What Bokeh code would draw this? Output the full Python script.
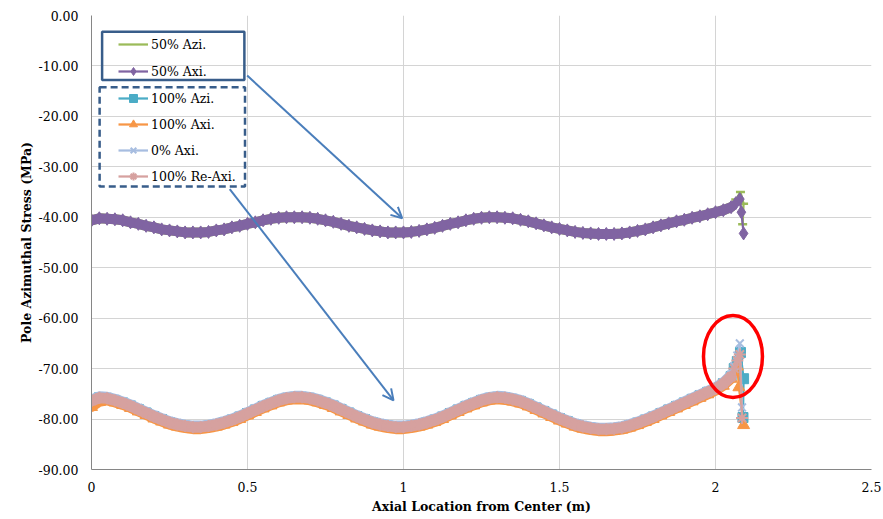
from bokeh.plotting import figure
from bokeh.models import (Range1d, FixedTicker, NumeralTickFormatter, Legend, LegendItem,
                          BoxAnnotation, Arrow, OpenHead)
from bokeh.embed import file_html
from bokeh.resources import INLINE

FONT = "DejaVu Serif"

# ---------------- data ----------------
x_body = [0.000, 0.025, 0.050, 0.075, 0.100, 0.125, 0.150, 0.175, 0.200, 0.225,
          0.250, 0.275, 0.300, 0.325, 0.350, 0.375, 0.400, 0.425, 0.450, 0.475,
          0.500, 0.525, 0.550, 0.575, 0.600, 0.625, 0.650, 0.675, 0.700, 0.725,
          0.750, 0.775, 0.800, 0.825, 0.850, 0.875, 0.900, 0.925, 0.950, 0.975,
          1.000, 1.025, 1.050, 1.075, 1.100, 1.125, 1.150, 1.175, 1.200, 1.225,
          1.250, 1.275, 1.300, 1.325, 1.350, 1.375, 1.400, 1.425, 1.450, 1.475,
          1.500, 1.525, 1.550, 1.575, 1.600, 1.625, 1.650, 1.675, 1.700, 1.725,
          1.750, 1.775, 1.800, 1.825, 1.850, 1.875, 1.900, 1.925, 1.950, 1.975,
          2.000, 2.025, 2.050]

upper_body = [-40.6, -40.2, -40.3, -40.4, -40.6, -41.0, -41.3, -41.7, -42.0, -42.4,
              -42.6, -42.8, -43.0, -43.0, -43.0, -42.9, -42.6, -42.4, -42.0, -41.7,
              -41.3, -41.0, -40.6, -40.3, -40.1, -40.0, -40.0, -40.0, -40.1, -40.3,
              -40.6, -40.9, -41.3, -41.7, -42.0, -42.3, -42.6, -42.8, -43.0, -43.0,
              -43.0, -42.9, -42.7, -42.4, -42.1, -41.7, -41.3, -41.0, -40.6, -40.3,
              -40.1, -40.0, -40.0, -40.1, -40.2, -40.5, -40.8, -41.2, -41.6, -42.0,
              -42.3, -42.6, -42.9, -43.1, -43.2, -43.3, -43.3, -43.3, -43.2, -43.0,
              -42.7, -42.4, -42.0, -41.6, -41.2, -40.8, -40.5, -40.1, -39.8, -39.4,
              -39.0, -38.6, -38.0]

lower_body = [-76.4, -75.8, -75.9, -76.3, -76.8, -77.4, -78.1, -78.8, -79.5, -80.1,
              -80.7, -81.1, -81.4, -81.6, -81.6, -81.4, -81.1, -80.7, -80.2, -79.6,
              -78.9, -78.2, -77.5, -76.9, -76.3, -75.9, -75.7, -75.7, -75.9, -76.3,
              -76.8, -77.4, -78.1, -78.8, -79.5, -80.1, -80.7, -81.1, -81.4, -81.6,
              -81.6, -81.4, -81.1, -80.7, -80.2, -79.6, -78.9, -78.2, -77.5, -76.9,
              -76.3, -75.9, -75.7, -75.8, -76.1, -76.5, -77.1, -77.8, -78.5, -79.2,
              -79.9, -80.5, -81.1, -81.5, -81.8, -82.0, -82.0, -81.9, -81.7, -81.3,
              -80.8, -80.2, -79.6, -78.9, -78.2, -77.5, -76.8, -76.1, -75.4, -74.7,
              -74.0, -73.0, -71.6]

axi100_body = [-77.6, -76.6, -76.3, -76.7, -77.2, -77.8, -78.5, -79.2, -79.9, -80.5,
               -81.1, -81.5, -81.8, -82.0, -82.0, -81.8, -81.5, -81.1, -80.6, -80.0,
               -79.3, -78.6, -77.9, -77.3, -76.7, -76.3, -76.1, -76.1, -76.3, -76.7,
               -77.2, -77.8, -78.5, -79.2, -79.9, -80.5, -81.1, -81.5, -81.8, -82.0,
               -82.0, -81.8, -81.5, -81.1, -80.6, -80.0, -79.3, -78.6, -77.9, -77.3,
               -76.7, -76.3, -76.1, -76.2, -76.5, -76.9, -77.5, -78.2, -78.9, -79.6,
               -80.3, -80.9, -81.5, -81.9, -82.2, -82.4, -82.4, -82.3, -82.1, -81.7,
               -81.2, -80.6, -80.0, -79.3, -78.6, -77.9, -77.2, -76.5, -75.8, -75.1,
               -74.4, -73.4, -72.0]

axi0_body = [-76.1, -75.5, -75.6, -76.0, -76.5, -77.1, -77.8, -78.5, -79.2, -79.8,
             -80.4, -80.8, -81.1, -81.3, -81.3, -81.1, -80.8, -80.4, -79.9, -79.3,
             -78.6, -77.9, -77.2, -76.6, -76.0, -75.6, -75.4, -75.4, -75.6, -76.0,
             -76.5, -77.1, -77.8, -78.5, -79.2, -79.8, -80.4, -80.8, -81.1, -81.3,
             -81.3, -81.1, -80.8, -80.4, -79.9, -79.3, -78.6, -77.9, -77.2, -76.6,
             -76.0, -75.6, -75.4, -75.5, -75.8, -76.2, -76.8, -77.5, -78.2, -78.9,
             -79.6, -80.2, -80.8, -81.2, -81.5, -81.7, -81.7, -81.6, -81.4, -81.0,
             -80.5, -79.9, -79.3, -78.6, -77.9, -77.2, -76.5, -75.8, -75.1, -74.4,
             -73.7, -72.7, -71.2]

# end-of-pole points
azi50_end_x = [2.065, 2.080, 2.090, 2.087]
azi50_end = [-36.5, -35.0, -37.3, -41.4]
axi50_end_x = [2.065, 2.078, 2.083, 2.090]
axi50_end = [-37.2, -36.4, -39.0, -43.2]
azi100_end_x = [2.060, 2.070, 2.080, 2.090, 2.088]
azi100_end = [-70.0, -68.6, -66.8, -72.0, -79.7]
axi100_end_x = [2.060, 2.070, 2.075, 2.090]
axi100_end = [-70.8, -69.6, -73.7, -81.2]
axi0_end_x = [2.060, 2.070, 2.078, 2.085]
axi0_end = [-69.5, -67.4, -65.0, -77.7]
reaxi100_end_x = [2.060, 2.070, 2.078, 2.085]
reaxi100_end = [-70.0, -68.4, -67.2, -79.8]

x_ticks = [0, 0.5, 1, 1.5, 2, 2.5]
y_ticks = [-90, -80, -70, -60, -50, -40, -30, -20, -10, 0]

# annotations (data units)
ARROW1 = (0.499, -11.9, 0.996, -40.2)
ARROW2 = (0.443, -34.4, 0.968, -76.3)
ELLIPSE = (2.056, -67.6, 0.189, 16.3)
BOX1 = (0.034, 0.490, -3.2, -12.8)
BOX2 = (0.026, 0.492, -14.2, -33.9)

# ---------------- figure ----------------
p = figure(width=883, height=519, output_backend="svg", toolbar_location=None,
           x_range=Range1d(0, 2.5), y_range=Range1d(-90, 0),
           min_border_left=91, min_border_right=12, min_border_top=15, min_border_bottom=50)
p.outline_line_color = None
p.background_fill_color = "white"
p.border_fill_color = "white"

p.xaxis.ticker = FixedTicker(ticks=x_ticks)
p.yaxis.ticker = FixedTicker(ticks=y_ticks)
p.xaxis.formatter = NumeralTickFormatter(format="0.[0]")
p.yaxis.formatter = NumeralTickFormatter(format="0.00")
p.xaxis.axis_label = "Axial Location from Center (m)"
p.yaxis.axis_label = "Pole Azimuthal Stress (MPa)"
for ax in (p.xaxis[0], p.yaxis[0]):
    ax.axis_line_color = "#868686"
    ax.axis_line_width = 1
    ax.major_tick_line_color = None
    ax.minor_tick_line_color = None
    ax.major_tick_out = 0
    ax.major_tick_in = 0
    ax.minor_tick_out = 0
    ax.major_label_text_font = FONT
    ax.major_label_text_font_size = "12.5px"
    ax.major_label_text_color = "#000000"
    ax.axis_label_text_font = FONT
    ax.axis_label_text_font_style = "bold"
    ax.axis_label_text_font_size = "12.5px"
    ax.axis_label_text_color = "#000000"
p.yaxis.major_label_standoff = 13
p.xaxis.major_label_standoff = 12
p.yaxis.axis_label_standoff = 1
p.xaxis.axis_label_standoff = 4
p.xgrid.grid_line_color = "#d4d4d4"
p.ygrid.grid_line_color = "#d4d4d4"


def series(xb, yb, xe, ye, color, marker, msize, band_w, mline=1.0, legend_marker=True):
    p.line(xb, yb, line_width=band_w, line_color=color, line_join="round", line_cap="round")
    xf = xb + xe
    yf = yb + ye
    thin = p.line(xf, yf, line_width=2.25, line_color=color)
    if marker == "dash":
        mk = p.scatter(xf, yf, marker="dash", size=msize, line_color=color, line_width=2.5)
    elif marker in ("x", "asterisk"):
        mk = p.scatter(xf, yf, marker=marker, size=msize, line_color=color, line_width=mline)
    else:
        mk = p.scatter(xf, yf, marker=marker, size=msize, fill_color=color, line_color=color,
                       line_width=mline)
    return [thin, mk] if legend_marker else [thin]


r_azi50 = series(x_body, upper_body, azi50_end_x, azi50_end, "#9bbb59", "dash", 9, 10,
                 legend_marker=False)
r_axi50 = series(x_body, upper_body, axi50_end_x, axi50_end, "#8064a2", "diamond", 13, 10)
r_azi100 = series(x_body, lower_body, azi100_end_x, azi100_end, "#4bacc6", "square", 10, 10)
r_axi100 = series(x_body, axi100_body, axi100_end_x, axi100_end, "#f79646", "triangle", 12, 10)
r_axi0 = series(x_body, axi0_body, axi0_end_x, axi0_end, "#a7bde0", "x", 11, 10, 2)
r_reaxi = series(x_body, lower_body, reaxi100_end_x, reaxi100_end, "#d6a19f", "asterisk", 12, 11, 2)

# ---------------- annotations ----------------
BLUE = "#4a7ebb"
for (xs, ys, xe, ye) in (ARROW1, ARROW2):
    p.add_layout(Arrow(end=OpenHead(size=11, line_color=BLUE, line_width=2),
                       x_start=xs, y_start=ys, x_end=xe, y_end=ye,
                       line_color=BLUE, line_width=2))

ex, ey, ew, eh = ELLIPSE
p.ellipse(x=[ex], y=[ey], width=ew, height=eh, fill_color=None,
          line_color="#ff0000", line_width=3.5)

BOXC = "#385d8a"
l, r, t, b = BOX1
p.add_layout(BoxAnnotation(left=l, right=r, top=t, bottom=b, fill_color=None,
                           line_color=BOXC, line_width=2.5, line_alpha=1))
l, r, t, b = BOX2
p.add_layout(BoxAnnotation(left=l, right=r, top=t, bottom=b, fill_color=None,
                           line_color=BOXC, line_width=2.5, line_alpha=1, line_dash="7 4"))

common = dict(padding=0, margin=0, glyph_width=30, glyph_height=20, label_height=20,
              label_standoff=3, label_text_font=FONT, label_text_font_size="12.5px",
              label_text_color="#000000", background_fill_alpha=0, border_line_alpha=0,
              inactive_fill_alpha=0)
leg1 = Legend(items=[LegendItem(label="50% Azi.", renderers=r_azi50),
                     LegendItem(label="50% Axi.", renderers=r_axi50)],
              location=(27, 388), spacing=7, **common)
leg2 = Legend(items=[LegendItem(label="100% Azi.", renderers=r_azi100),
                     LegendItem(label="100% Axi.", renderers=r_axi100),
                     LegendItem(label="0% Axi.", renderers=r_axi0),
                     LegendItem(label="100% Re-Axi.", renderers=r_reaxi)],
              location=(27, 283), spacing=6, **common)
p.add_layout(leg1)
p.add_layout(leg2)

open("out.html", "w").write(file_html(p, INLINE))
